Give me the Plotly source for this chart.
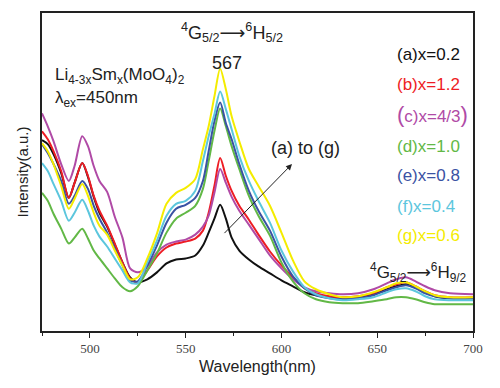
import plotly.graph_objects as go

# Wavelength grid (nm)
wavelength = [475, 478, 481, 485, 489, 492, 496, 499, 502, 505, 509, 513, 517, 521, 525,
              530, 535, 540, 545, 550, 555, 559, 562, 565, 568, 571, 574, 578, 583, 588,
              594, 600, 606, 612, 618, 625, 632, 640, 648, 655, 660, 665, 670, 675, 680,
              688, 700]

# Emission intensities (a.u.)
int_a = [192, 188, 178, 159, 134, 149, 169, 155, 135, 119, 105, 87, 69, 54, 49,
         52, 59, 68, 72, 73, 76, 86, 99, 113, 127, 113, 94, 81, 72, 65,
         58, 51, 45, 39, 36, 34, 33, 34, 37, 42, 45, 47, 44, 39, 35, 33, 33]
int_b = [201, 193, 181, 161, 134, 149, 169, 156, 136, 121, 106, 88, 69, 53, 49,
         61, 75, 84, 88, 90, 93, 101, 119, 146, 174, 156, 141, 126, 112, 97,
         80, 66, 54, 43, 38, 35, 34, 35, 38, 44, 47, 49, 45, 40, 36, 34, 34]
int_c = [219, 206, 191, 168, 151, 166, 196, 186, 166, 151, 140, 115, 94, 63, 59,
         65, 79, 87, 90, 92, 97, 105, 116, 139, 163, 149, 135, 121, 107, 93,
         76, 63, 52, 44, 40, 38, 37, 38, 42, 48, 52, 54, 50, 45, 41, 38, 37]
int_d = [139, 131, 118, 103, 88, 94, 103, 93, 81, 73, 63, 53, 44, 40, 45,
         61, 78, 99, 113, 119, 126, 143, 171, 201, 224, 206, 186, 163, 136, 116,
         96, 69, 50, 38, 32, 29, 28, 28, 30, 32, 34, 34, 32, 29, 27, 27, 27]
int_e = [188, 179, 168, 151, 128, 136, 151, 143, 126, 113, 99, 83, 66, 51, 50,
         66, 86, 109, 123, 127, 134, 151, 181, 211, 230, 209, 193, 168, 141, 121,
         101, 75, 55, 43, 36, 33, 32, 33, 36, 41, 44, 46, 43, 38, 35, 33, 33]
int_f = [169, 161, 148, 131, 111, 119, 132, 121, 106, 95, 85, 73, 61, 49, 48,
         69, 91, 116, 128, 131, 141, 171, 196, 218, 241, 223, 203, 176, 151, 131,
         109, 81, 60, 44, 37, 33, 31, 32, 34, 39, 42, 43, 40, 35, 32, 31, 31]
int_g = [189, 181, 168, 146, 123, 133, 148, 136, 119, 106, 97, 81, 66, 52, 54,
         73, 98, 128, 139, 144, 153, 183, 206, 236, 264, 243, 216, 191, 163, 146,
         126, 99, 71, 50, 42, 37, 34, 35, 39, 44, 48, 49, 45, 40, 36, 34, 34]

series_labels = ["(a)x=0.2", "(b)x=1.2",
                 "<span style='font-size:22px'>(</span>c)x=4/3<span style='font-size:22px'>)</span>",
                 "(d)x=1.0", "(e)x=0.8", "(f)x=0.4", "(g)x=0.6"]
series_colors = ["#111111", "#ee1c24", "#b04aa6", "#62b846", "#3a52a3", "#5cc6dd", "#f4ec00"]
series_values = [int_a, int_b, int_c, int_d, int_e, int_f, int_g]

x_ticks = [500, 550, 600, 650, 700]

fig = go.Figure()
for vals, col in zip(series_values, series_colors):
    fig.add_trace(go.Scatter(x=wavelength, y=vals, mode="lines",
                             line=dict(color=col, width=2, shape="spline", smoothing=0.8),
                             showlegend=False, hoverinfo="skip"))

W, H = 500, 388
L, R, T, B = 42, 27, 11, 57
pw, ph = W - L - R, H - T - B


def px(xp):
    return (xp - L) / pw


def py(yp):
    return (H - B - yp) / ph


font = "Liberation Sans, Arial, sans-serif"
arrow = "<span style='font-family:DejaVu Sans'>\u27f6</span>"
ann = []
ann.append(dict(x=px(232), y=py(31),
                text="<sup>4</sup>G<sub>5/2</sub>" + arrow + "<sup>6</sup>H<sub>5/2</sub>",
                font=dict(size=18, color="#222", family=font)))
ann.append(dict(x=px(227), y=py(61), text="567", font=dict(size=18, color="#222", family=font)))
ann.append(dict(x=px(53), y=py(74), xanchor="left",
                text="Li<sub>4-3x</sub>Sm<sub>x</sub>(MoO<sub>4</sub>)<sub>2</sub>",
                font=dict(size=17, color="#222", family=font)))
ann.append(dict(x=px(53), y=py(98), xanchor="left", text="\u03bb<sub>ex</sub>=450nm",
                font=dict(size=17, color="#222", family=font)))
ann.append(dict(x=px(305), y=py(147), text="(a) to (g)", font=dict(size=18, color="#222", family=font)))
ann.append(dict(x=px(418), y=py(272),
                text="<sup>4</sup>G<sub>5/2</sub>" + arrow + "<sup>6</sup>H<sub>9/2</sub>",
                font=dict(size=17, color="#222", family=font)))
# arrow
ann.append(dict(x=px(292), y=py(163), ax=px(223), ay=py(234), xref="x domain", yref="y domain",
                axref="x domain", ayref="y domain", text="", showarrow=True,
                arrowhead=2, arrowsize=1.2, arrowwidth=1, arrowcolor="#222"))
legend_y = [53, 83, 113, 145, 175, 206, 235]
for lab, col, yy in zip(series_labels, series_colors, legend_y):
    ann.append(dict(x=px(395), y=py(yy), xanchor="left", text=lab,
                    font=dict(size=17, color=col, family=font)))
for a in ann:
    a.setdefault("xref", "paper")
    a.setdefault("yref", "paper")
    a.setdefault("showarrow", False)
    a.setdefault("yanchor", "middle")
    if "xanchor" not in a:
        a["xanchor"] = "center"

fig.update_layout(
    width=W, height=H,
    margin=dict(l=L, r=R, t=T, b=B),
    paper_bgcolor="white", plot_bgcolor="white",
    annotations=ann,
    xaxis=dict(range=[475, 700], tickvals=x_ticks, ticks="outside", ticklen=5, tickwidth=1.2,
               tickcolor="#222", showline=True, linecolor="#222", linewidth=1.5, mirror=True,
               showgrid=False, zeroline=False,
               tickfont=dict(family="Liberation Serif, Times New Roman, serif", size=13, color="#444"),
               minor=dict(tick0=475, dtick=25, ticks="outside", ticklen=3, tickcolor="#222"),
               title=dict(text="Wavelength(nm)", font=dict(family=font, size=16, color="#222"),
                          standoff=5)),
    yaxis=dict(range=[0, 320], showticklabels=False, ticks="", showline=True, linecolor="#222",
               linewidth=1.5, mirror=True, showgrid=False, zeroline=False,
               title=dict(text="Intensity(a.u.)", font=dict(family=font, size=15, color="#222"),
                          standoff=8)),
)

fig.write_html("out.html", post_script="document.body.style.margin='0';",
               config={"displayModeBar": False})
